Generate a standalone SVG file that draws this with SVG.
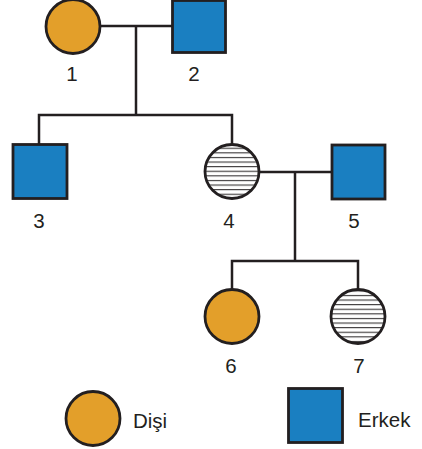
<svg xmlns="http://www.w3.org/2000/svg" width="422" height="449" viewBox="0 0 422 449">
  <style>
    .line { fill: none; stroke: #231f20; stroke-width: 2.5; }
    .female { fill: #e39f2a; stroke: #231f20; stroke-width: 2.8; }
    .male { fill: #1a7fc1; stroke: #231f20; stroke-width: 2.8; }
    .carrier { fill: url(#hatch); stroke: #231f20; stroke-width: 2.8; }
    .label { font-family: "Liberation Sans", Arial, sans-serif; font-size: 20.5px; fill: #231f20; text-anchor: middle; }
    .legend { font-family: "Liberation Sans", Arial, sans-serif; font-size: 20.5px; fill: #231f20; }
  </style>
  <defs>
    <pattern id="hatch" patternUnits="userSpaceOnUse" width="8" height="4.6" y="0.5">
      <rect width="8" height="4.6" fill="#ffffff"/>
      <line x1="0" y1="0.6" x2="8" y2="0.6" stroke="#231f20" stroke-width="1"/>
    </pattern>
  </defs>

  <!-- connectors -->
  <g id="connectors">
    <line class="line" x1="100" y1="26" x2="172" y2="26"/>
    <line class="line" x1="136" y1="26" x2="136" y2="115"/>
    <polyline class="line" points="39,144 39,115 232,115 232,144"/>
    <line class="line" x1="259" y1="172" x2="332" y2="172"/>
    <line class="line" x1="295" y1="172" x2="295" y2="261"/>
    <polyline class="line" points="232,290 232,261 358,261 358,290"/>
  </g>

  <g id="node-1">
    <circle class="female" cx="73" cy="26.5" r="27"/>
    <text class="label" x="72" y="81">1</text>
  </g>
  <g id="node-2">
    <rect class="male" x="172.5" y="0.5" width="53" height="52"/>
    <text class="label" x="194" y="81">2</text>
  </g>
  <g id="node-3">
    <rect class="male" x="13" y="144.5" width="54" height="54"/>
    <text class="label" x="39" y="228">3</text>
  </g>
  <g id="node-4">
    <circle class="carrier" cx="232" cy="171.5" r="27"/>
    <text class="label" x="229" y="228">4</text>
  </g>
  <g id="node-5">
    <rect class="male" x="332" y="145" width="53" height="54"/>
    <text class="label" x="354" y="228">5</text>
  </g>
  <g id="node-6">
    <circle class="female" cx="232" cy="316.5" r="27"/>
    <text class="label" x="231" y="373">6</text>
  </g>
  <g id="node-7">
    <circle class="carrier" cx="358" cy="316.5" r="27"/>
    <text class="label" x="359" y="373">7</text>
  </g>

  <g id="legend-female">
    <circle class="female" cx="93" cy="418.5" r="27"/>
    <text class="legend" x="133" y="428">Dişi</text>
  </g>
  <g id="legend-male">
    <rect class="male" x="288.5" y="388.5" width="54" height="54"/>
    <text class="legend" x="358" y="427">Erkek</text>
  </g>
</svg>
